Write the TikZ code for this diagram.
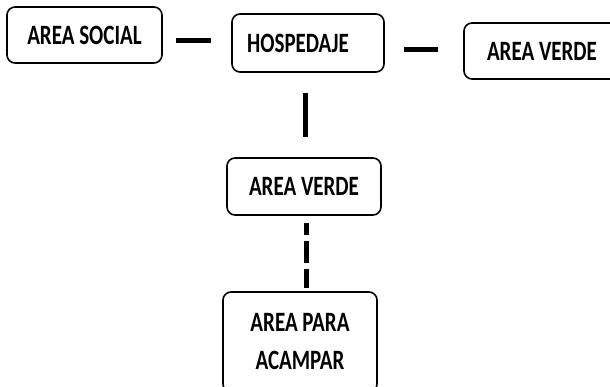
\documentclass[tikz,border=0pt]{standalone}
\usepackage{fontspec}
\newfontfamily\boxfont[FakeStretch=0.75]{Carlito}
\usetikzlibrary{positioning}

\begin{document}
\begin{tikzpicture}[
    x=1pt, y=-1pt,
    box/.style={draw, line width=1.6pt, rounded corners=8pt, inner sep=0pt, align=center,
      font=\boxfont\bfseries\fontsize{28}{38}\selectfont},
    wire/.style={line width=5pt},
    dashwire/.style={wire, dash pattern=on 22pt off 6pt, dash phase=10pt}
  ]
  \useasboundingbox (0,0) rectangle (610,387);
  \clip (0,0) rectangle (610,387);

  \node[box, minimum width=155pt, minimum height=56pt] (soc) at (84.5,35) {AREA SOCIAL};
  \node[box, minimum width=152pt, minimum height=58pt] (hosp) at (308,43) {HOSPEDAJE\hspace*{20pt}};
  \node[box, minimum width=156pt, minimum height=56pt] (verdeR) at (542,51) {AREA VERDE};
  \node[box, minimum width=154pt, minimum height=57pt] (verdeM) at (304,186.5) {AREA VERDE};
  \node[box, minimum width=154pt, minimum height=100pt] (camp) at (300,342) {AREA PARA\\ACAMPAR};

  \draw[wire, shorten <=13pt, shorten >=20pt] ([yshift=-5.5pt]soc.east) -- ([yshift=2.5pt]hosp.west);
  \draw[wire, shorten <=19pt, shorten >=25pt] ([yshift=-6.5pt]hosp.east) -- ([yshift=1.5pt]verdeR.west);
  \draw[wire, shorten <=20pt, shorten >=20pt] ([xshift=-3pt]hosp.south) -- ([xshift=1pt]verdeM.north);
  \draw[dashwire, shorten <=7pt, shorten >=3pt] ([xshift=2.5pt]verdeM.south) -- ([xshift=6.5pt]camp.north);
\end{tikzpicture}
\end{document}
